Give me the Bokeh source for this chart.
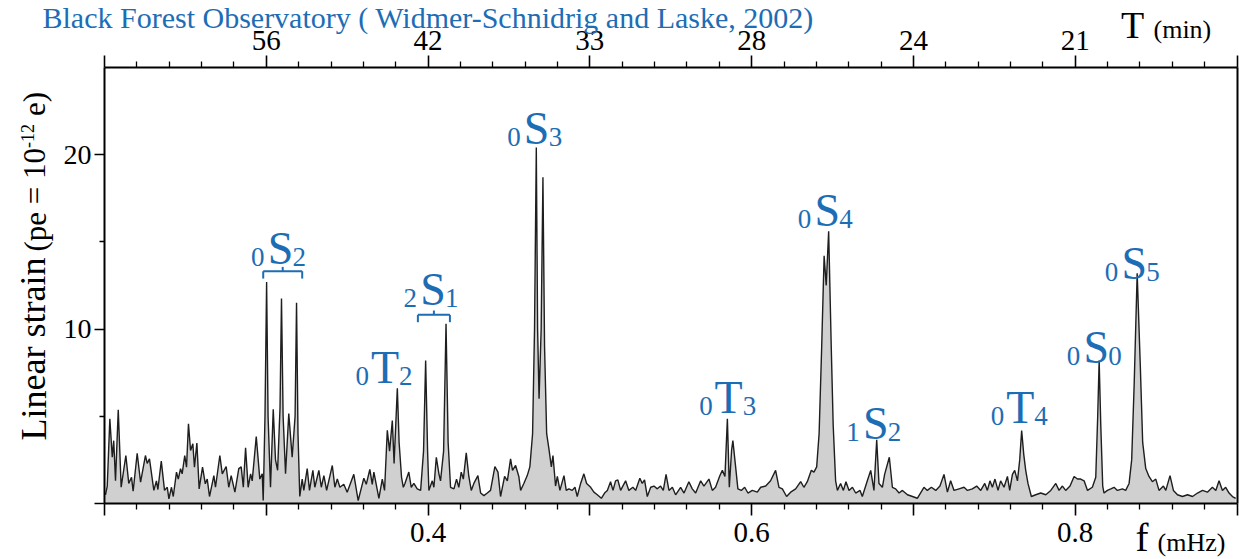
import math
from bokeh.plotting import figure
from bokeh.models import Range1d, LinearAxis, FixedTicker, LabelSet, ColumnDataSource
from bokeh.core.properties import value
from bokeh.embed import file_html
from bokeh.resources import INLINE

# ---------------- data ----------------
freq = [
    0.2006, 0.2017, 0.2033, 0.2048, 0.2057, 0.2068, 0.2085, 0.2103, 0.2132, 0.2150,
    0.2167, 0.2177, 0.2202, 0.2223, 0.2253, 0.2264, 0.2278, 0.2305, 0.2321, 0.2330,
    0.2351, 0.2371, 0.2388, 0.2398, 0.2414, 0.2425, 0.2445, 0.2456, 0.2470, 0.2480,
    0.2496, 0.2507, 0.2519, 0.2532, 0.2546, 0.2556, 0.2571, 0.2585, 0.2606, 0.2623,
    0.2635, 0.2649, 0.2676, 0.2686, 0.2713, 0.2728, 0.2752, 0.2768, 0.2783, 0.2806,
    0.2830, 0.2845, 0.2858, 0.2872, 0.2888, 0.2903, 0.2913, 0.2938, 0.2960, 0.2975,
    0.2981, 0.2992, 0.3002, 0.3011, 0.3026, 0.3043, 0.3057, 0.3070, 0.3085, 0.3094,
    0.3104, 0.3119, 0.3139, 0.3160, 0.3178, 0.3187, 0.3196, 0.3207, 0.3222, 0.3232,
    0.3253, 0.3267, 0.3288, 0.3300, 0.3325, 0.3340, 0.3356, 0.3373, 0.3408, 0.3424,
    0.3439, 0.3455, 0.3479, 0.3500, 0.3541, 0.3568, 0.3603, 0.3618, 0.3640, 0.3655,
    0.3665, 0.3696, 0.3717, 0.3731, 0.3748, 0.3762, 0.3779, 0.3790, 0.3810, 0.3821,
    0.3836, 0.3847, 0.3857, 0.3881, 0.3896, 0.3912, 0.3933, 0.3954, 0.3972, 0.3985,
    0.3997, 0.4005, 0.4026, 0.4036, 0.4051, 0.4067, 0.4077, 0.4096, 0.4111, 0.4124,
    0.4139, 0.4160, 0.4176, 0.4190, 0.4205, 0.4218, 0.4236, 0.4252, 0.4267, 0.4283,
    0.4308, 0.4325, 0.4345, 0.4366, 0.4386, 0.4413, 0.4432, 0.4448, 0.4473, 0.4490,
    0.4510, 0.4522, 0.4541, 0.4561, 0.4572, 0.4592, 0.4613, 0.4629, 0.4646, 0.4658,
    0.4669, 0.4677, 0.4686, 0.4699, 0.4710, 0.4720, 0.4733, 0.4747, 0.4762, 0.4772,
    0.4788, 0.4799, 0.4815, 0.4840, 0.4854, 0.4870, 0.4891, 0.4908, 0.4922, 0.4943,
    0.4963, 0.4980, 0.5005, 0.5025, 0.5046, 0.5071, 0.5091, 0.5108, 0.5128, 0.5143,
    0.5159, 0.5173, 0.5190, 0.5221, 0.5241, 0.5266, 0.5283, 0.5309, 0.5324, 0.5338,
    0.5355, 0.5376, 0.5396, 0.5417, 0.5437, 0.5454, 0.5471, 0.5489, 0.5510, 0.5530,
    0.5561, 0.5582, 0.5612, 0.5633, 0.5654, 0.5685, 0.5705, 0.5736, 0.5757, 0.5777,
    0.5804, 0.5819, 0.5835, 0.5850, 0.5862, 0.5876, 0.5884, 0.5901, 0.5915, 0.5936,
    0.5957, 0.5977, 0.6004, 0.6035, 0.6056, 0.6087, 0.6117, 0.6148, 0.6169, 0.6190,
    0.6216, 0.6241, 0.6272, 0.6303, 0.6323, 0.6344, 0.6369, 0.6385, 0.6402, 0.6417,
    0.6433, 0.6448, 0.6461, 0.6476, 0.6492, 0.6504, 0.6519, 0.6530, 0.6550, 0.6567,
    0.6583, 0.6602, 0.6623, 0.6643, 0.6670, 0.6684, 0.6715, 0.6736, 0.6756, 0.6773,
    0.6787, 0.6808, 0.6822, 0.6851, 0.6870, 0.6890, 0.6911, 0.6932, 0.6963, 0.6994,
    0.7024, 0.7065, 0.7086, 0.7111, 0.7138, 0.7164, 0.7189, 0.7210, 0.7230, 0.7251,
    0.7282, 0.7313, 0.7334, 0.7364, 0.7391, 0.7416, 0.7441, 0.7457, 0.7473, 0.7488,
    0.7504, 0.7523, 0.7539, 0.7560, 0.7581, 0.7595, 0.7612, 0.7626, 0.7643, 0.7657,
    0.7669, 0.7682, 0.7694, 0.7708, 0.7729, 0.7756, 0.7787, 0.7818, 0.7849, 0.7880,
    0.7900, 0.7921, 0.7941, 0.7968, 0.7993, 0.8014, 0.8034, 0.8055, 0.8076, 0.8106,
    0.8127, 0.8139, 0.8148, 0.8158, 0.8170, 0.8178, 0.8199, 0.8220, 0.8240, 0.8261,
    0.8292, 0.8312, 0.8333, 0.8349, 0.8365, 0.8383, 0.8402, 0.8417, 0.8436, 0.8456,
    0.8477, 0.8498, 0.8518, 0.8545, 0.8560, 0.8586, 0.8607, 0.8632, 0.8663, 0.8694,
    0.8725, 0.8756, 0.8787, 0.8817, 0.8848, 0.8869, 0.8889, 0.8910, 0.8930, 0.8951,
    0.8972, 0.8992,
]
strain = [
    0.5, 1.0, 4.85, 2.65, 3.6, 1.3, 5.37, 0.93, 2.75, 1.15,
    1.5, 0.7, 2.88, 1.22, 2.75, 2.3, 2.56, 0.75, 1.3, 0.8,
    2.43, 0.75, 0.93, 0.27, 0.93, 0.4, 1.8, 1.4, 2.0, 1.7,
    2.75, 2.08, 4.57, 3.04, 3.42, 2.08, 3.46, 0.84, 2.08, 1.13,
    1.4, 0.4, 1.6, 0.93, 2.75, 1.7, 2.12, 0.93, 1.6, 0.65,
    2.0, 2.1, 0.93, 3.19, 0.93, 1.7, 1.3, 3.84, 1.4, 1.7,
    0.17, 5.0, 12.7, 5.0, 0.93, 5.4, 2.5, 1.9, 5.5, 11.75,
    5.0, 1.7, 5.15, 2.65, 5.0, 11.5, 4.0, 0.4, 1.4, 0.75,
    2.0, 0.75, 1.9, 0.93, 1.9, 0.93, 1.6, 0.75, 2.18, 0.93,
    1.4, 0.93, 1.1, 0.65, 1.67, 0.17, 1.45, 1.1, 1.95, 1.1,
    1.8, 0.3, 1.4, 0.75, 4.2, 3.0, 4.75, 2.3, 6.6, 3.5,
    1.5, 0.93, 1.15, 1.8, 0.93, 1.15, 0.84, 0.75, 3.0, 8.2,
    3.0, 0.75, 1.3, 0.93, 2.65, 1.7, 1.3, 3.0, 10.3, 3.5,
    0.93, 0.84, 1.4, 0.93, 1.8, 1.4, 2.9, 1.55, 0.75, 1.15,
    1.6, 0.6, 0.45, 0.6, 0.75, 2.12, 1.8, 0.4, 1.55, 1.3,
    2.56, 1.9, 2.18, 1.55, 0.75, 1.15, 1.6, 2.1, 4.0, 10.0,
    20.4, 10.0, 6.0, 10.0, 18.7, 9.0, 4.0, 3.13, 2.1, 2.75,
    1.0, 1.55, 0.75, 1.6, 0.75, 0.84, 0.75, 0.93, 0.4, 1.15,
    1.7, 1.15, 0.93, 0.65, 0.5, 0.3, 0.6, 0.75, 1.25, 0.75,
    1.3, 1.35, 0.75, 1.3, 0.75, 0.93, 0.75, 1.45, 1.15, 1.35,
    0.4, 0.93, 1.0, 0.84, 1.0, 0.75, 1.67, 0.75, 0.93, 0.5,
    0.93, 0.6, 1.25, 0.84, 0.6, 1.3, 1.0, 1.4, 0.75, 0.93,
    1.6, 1.9, 1.55, 4.85, 0.93, 3.04, 3.6, 2.1, 0.84, 0.75,
    0.93, 0.6, 0.75, 0.65, 0.93, 1.0, 1.3, 1.9, 0.93, 0.84,
    0.4, 0.65, 0.84, 1.25, 0.93, 1.25, 1.9, 1.8, 2.1, 4.0,
    9.0, 14.2, 12.5, 15.6, 9.0, 4.5, 1.3, 0.75, 1.15, 0.75,
    1.25, 0.75, 0.93, 0.6, 0.75, 0.4, 1.3, 1.9, 0.75, 3.65,
    1.15, 0.93, 1.67, 2.65, 0.93, 0.84, 0.6, 0.75, 0.5, 0.4,
    0.3, 0.93, 0.75, 0.93, 0.75, 1.0, 1.67, 0.65, 1.3, 0.75,
    0.84, 0.93, 0.75, 0.84, 1.0, 0.75, 1.15, 0.75, 1.3, 0.93,
    1.4, 0.75, 1.3, 0.93, 1.55, 0.75, 1.67, 1.9, 1.3, 2.5,
    4.18, 2.8, 1.9, 1.15, 0.4, 0.5, 0.6, 0.5, 0.75, 1.15,
    0.75, 1.0, 0.75, 1.0, 1.55, 1.4, 1.4, 1.3, 0.75, 0.93,
    1.5, 5.0, 8.2, 4.5, 1.0, 0.6, 0.75, 0.84, 0.93, 0.75,
    0.84, 0.75, 1.15, 2.5, 7.0, 13.2, 8.0, 3.5, 2.0, 1.55,
    1.25, 1.4, 0.75, 1.0, 0.75, 1.6, 0.75, 0.5, 0.4, 0.5,
    0.4, 0.6, 0.75, 0.65, 0.93, 0.75, 1.3, 0.75, 0.93, 0.6,
    0.4, 0.3,
]

# axis ticks / labels
x_major = [0.2, 0.3, 0.4, 0.5, 0.6, 0.7, 0.8, 0.9]
x_labelled = [0.4, 0.6, 0.8]
period_freq = [0.3, 0.4, 0.5, 0.6, 0.7, 0.8]
period_labels = ["56", "42", "33", "28", "24", "21"]
y_major = [0, 10, 20]
y_minor = [5, 15]

# normal-mode annotations
mode_pre = ["0", "2", "0", "0", "0", "0", "1", "0", "0", "0"]
mode_letter = ["S", "S", "T", "S", "T", "S", "S", "T", "S", "S"]
mode_suf = ["2", "1", "2", "3", "3", "4", "2", "4", "0", "5"]
mode_f = [0.3088, 0.4031, 0.3734, 0.4671, 0.5858, 0.6467, 0.6767, 0.7660, 0.8130, 0.8365]
mode_y = [13.75, 11.35, 6.93, 20.63, 5.16, 15.93, 3.72, 4.64, 8.08, 12.89]

bracket_f0 = [0.2981, 0.3937]
bracket_f1 = [0.3222, 0.4135]
bracket_y = [13.31, 10.81]

title_text = "Black Forest Observatory ( Widmer-Schnidrig and Laske, 2002)"

# ---------------- layout / styling ----------------
SERIF = "Liberation Serif"
BLUE = "#1d6db5"
W, H = 1239, 559
X0, X1, Y0, Y1 = 0.2, 0.9, 0.0, 25.0          # plotted data box
BOX_L, BOX_R, BOX_T, BOX_B = 104.0, 1236.5, 66.75, 503.0   # its pixel box
sx = (BOX_R - BOX_L) / (X1 - X0)
sy = (BOX_B - BOX_T) / (Y1 - Y0)
x_range = Range1d(X0 - BOX_L / sx, X1 + (W - BOX_R) / sx)
y_range = Range1d(Y0 - (H - BOX_B) / sy, Y1 + BOX_T / sy)

p = figure(width=W, height=H, x_range=x_range, y_range=y_range,
           output_backend="svg", toolbar_location=None,
           x_axis_location=None, y_axis_location=None,
           min_border=0, min_border_left=0, min_border_right=0,
           min_border_top=0, min_border_bottom=0,
           background_fill_color="white", border_fill_color="white")
p.grid.visible = False
p.outline_line_color = None

x_minor = [round(0.2 + 0.02 * i, 2) for i in range(36) if i % 5]


def style_axis(ax, size, tick_out=12, minor_out=6, standoff=3):
    ax.axis_line_color = "black"
    ax.axis_line_width = 2
    ax.major_tick_line_color = "black"
    ax.major_tick_line_width = 1.6
    ax.minor_tick_line_color = "black"
    ax.minor_tick_line_width = 1.3
    ax.major_tick_in = 0
    ax.major_tick_out = tick_out
    ax.minor_tick_in = 0
    ax.minor_tick_out = minor_out
    ax.major_label_text_font = SERIF
    ax.major_label_text_font_size = f"{size}px"
    ax.major_label_text_color = "black"
    ax.major_label_standoff = standoff


bottom = LinearAxis(fixed_location=Y0, bounds=(X0, X1),
                    ticker=FixedTicker(ticks=x_major, minor_ticks=x_minor))
bottom.major_label_overrides = {t: (f"{t:.1f}" if t in x_labelled else "") for t in x_major}
style_axis(bottom, 29, standoff=7)
p.add_layout(bottom, "below")

top = LinearAxis(fixed_location=Y1, bounds=(X0, X1),
                 ticker=FixedTicker(ticks=x_major, minor_ticks=x_minor))
top_over = {t: "" for t in x_major}
top_over.update(dict(zip(period_freq, period_labels)))
top.major_label_overrides = top_over
style_axis(top, 29, standoff=5)
p.add_layout(top, "above")

left = LinearAxis(fixed_location=X0, bounds=(Y0, Y1),
                  ticker=FixedTicker(ticks=y_major, minor_ticks=y_minor))
left.major_label_overrides = {0: ""}
style_axis(left, 28, tick_out=10, minor_out=5, standoff=3)
p.add_layout(left, "left")

right = LinearAxis(fixed_location=X1, bounds=(Y0, Y1), ticker=FixedTicker(ticks=[]))
style_axis(right, 10, tick_out=0, minor_out=0)
p.add_layout(right, "right")

# spectrum
p.varea(x=freq, y1=[0.0] * len(freq), y2=strain, fill_color="#d0d0d0", fill_alpha=1.0)
p.line(freq, strain, line_color="#1e1e1e", line_width=1.4)

# brackets
bx0, by0, bx1, by1 = [], [], [], []
for f0, f1, yb in zip(bracket_f0, bracket_f1, bracket_y):
    fm = 0.5 * (f0 + f1)
    bx0 += [f0, f0, f1, fm]
    by0 += [yb, yb, yb, yb]
    bx1 += [f1, f0, f1, fm]
    by1 += [yb, yb - 0.42, yb - 0.42, yb + 0.25]
p.segment(x0=bx0, y0=by0, x1=bx1, y1=by1, line_color=BLUE, line_width=2)

# mode labels
src = ColumnDataSource(dict(
    f=mode_f, y=mode_y, pre=mode_pre, letter=mode_letter, suf=mode_suf,
    pre_dx=[-16 for _ in mode_letter],
    suf_dx=[14 if m == "T" else 12 for m in mode_letter],
))
p.add_layout(LabelSet(x="f", y="y", text="letter", source=src, text_align="center",
                      text_baseline="alphabetic", text_font=value(SERIF),
                      text_font_size="46px", text_color=BLUE))
p.add_layout(LabelSet(x="f", y="y", text="pre", source=src, x_offset="pre_dx", y_offset=-2,
                      text_align="right", text_baseline="alphabetic", text_font=value(SERIF),
                      text_font_size="27px", text_color=BLUE))
p.add_layout(LabelSet(x="f", y="y", text="suf", source=src, x_offset="suf_dx", y_offset=-2,
                      text_align="left", text_baseline="alphabetic", text_font=value(SERIF),
                      text_font_size="27px", text_color=BLUE))

# ---------------- texts around the box ----------------
rows = dict(t=[], x=[], y=[], dx=[], dy=[], size=[], color=[], angle=[])


def add_text(text, x, y, dx, dy, size, color="black", angle=0.0):
    rows["t"].append(text)
    rows["x"].append(x)
    rows["y"].append(y)
    rows["dx"].append(dx)
    rows["dy"].append(dy)
    rows["size"].append(f"{size}px")
    rows["color"].append(color)
    rows["angle"].append(angle)


# title (top-left, blue)
add_text(title_text, X0, Y1, -62, 39.5, 30, color=BLUE)
# top axis name
add_text("T", X1, Y1, -116, 29.25, 38)
add_text("(min)", X1, Y1, -83.5, 29.25, 26)
# bottom axis name
add_text("f", X1, Y0, -101.5, -47, 39)
add_text("(mHz)", X1, Y0, -79.5, -47, 26)
# y axis name (rotated)
A = math.pi / 2
add_text("Linear strain", X0, Y0, -59, 63, 36, angle=A)
add_text("(pe = 10", X0, Y0, -59, 252, 31, angle=A)
add_text("-12", X0, Y0, -70, 355.6, 18, angle=A)
add_text("e)", X0, Y0, -59, 387.6, 31, angle=A)

p.add_layout(LabelSet(x="x", y="y", text="t", source=ColumnDataSource(rows),
                      x_offset="dx", y_offset="dy", angle="angle",
                      text_font=value(SERIF), text_font_size="size", text_color="color",
                      text_align="left", text_baseline="alphabetic"))

open("out.html", "w").write(file_html(p, INLINE))
